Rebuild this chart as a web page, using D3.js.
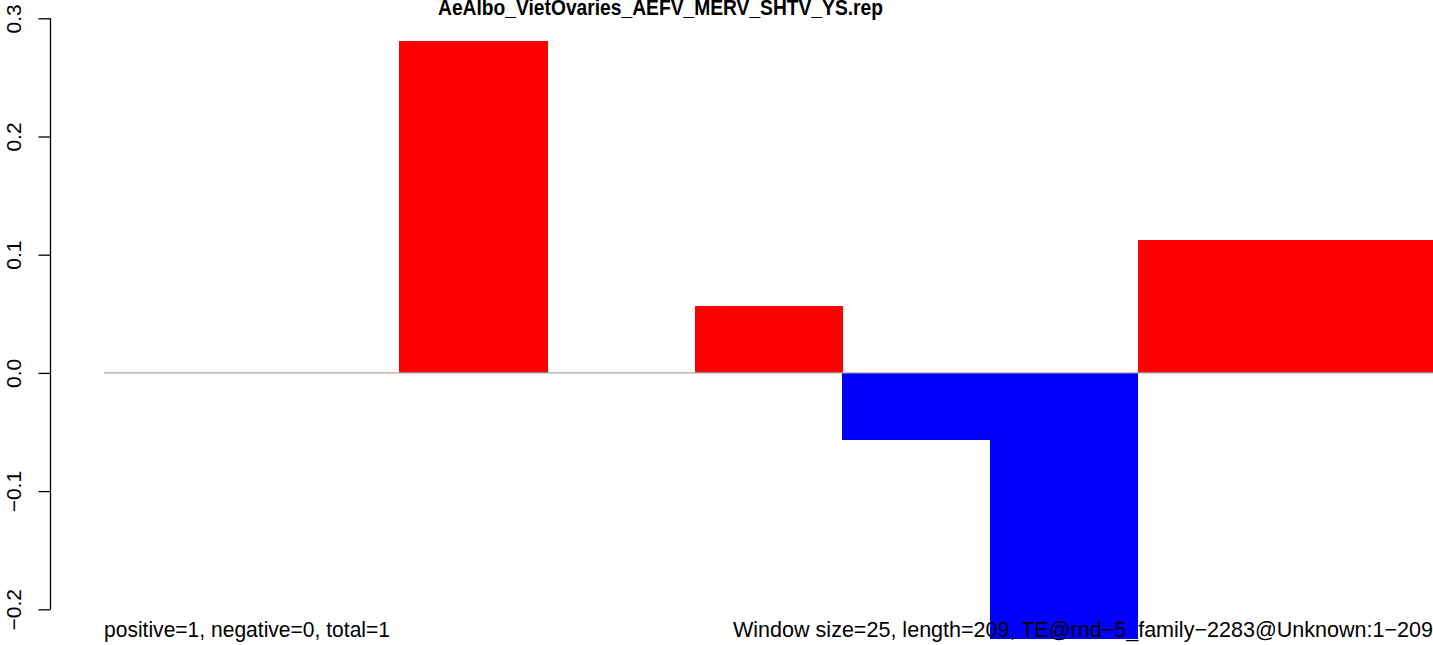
<!DOCTYPE html>
<html><head><meta charset="utf-8">
<script src="https://cdn.jsdelivr.net/npm/d3@7"></script>
<style>body{margin:0;background:#fff;}svg{display:block;font-family:"Liberation Sans",Arial,sans-serif;}</style>
</head><body><svg id="c" width="1433" height="645"></svg>
<script>
const title = "AeAlbo_VietOvaries_AEFV_MERV_SHTV_YS.rep";
const windows = [1,2,3,4,5,6,7,8,9];
const values = [0, 0, 0.2808, 0, 0.0569, -0.0565, -0.2251, 0.1124, 0.1124];
const yTicks = [-0.2, -0.1, 0.0, 0.1, 0.2, 0.3];
const leftNote = "positive=1, negative=0, total=1";
const rightNote = "Window size=25, length=209, TE@rnd\u22125_family\u22122283@Unknown:1\u2212209";

const svg = d3.select("#c");
const x = d3.scaleBand().domain(windows).range([104, 1433]).padding(0);
const y = d3.scaleLinear().domain([-0.2, 0.3]).range([609.3, 18.3]);

svg.append("g").selectAll("rect").data(values).join("rect")
  .attr("x", (d,i) => x(windows[i]))
  .attr("width", x.bandwidth() + 0.5)
  .attr("y", d => y(Math.max(0, d)))
  .attr("height", d => Math.abs(y(d) - y(0)))
  .attr("shape-rendering", "crispEdges")
  .attr("fill", d => d >= 0 ? "#ff0000" : "#0000ff");

svg.append("line").attr("x1", 104).attr("x2", 1433)
  .attr("y1", y(0)).attr("y2", y(0))
  .attr("stroke", "#a8a8a8").attr("stroke-width", 1.3);

// y axis
const ax = svg.append("g").attr("transform", "translate(50.5,0)")
  .call(d3.axisLeft(y).tickValues(yTicks).tickSize(12).tickFormat(d => d3.format(".1f")(d).replace("-", "\u2212")));
ax.select(".domain").attr("stroke", "#000").attr("stroke-width", 1.3).attr("d", `M0,${y(-0.2)}V${y(0.3)}`);
ax.selectAll(".tick line").attr("stroke", "#000").attr("stroke-width", 1.3);
ax.selectAll(".tick text")
  .attr("x", null).attr("dy", null)
  .attr("transform", "translate(-29.5,0) rotate(-90)")
  .attr("text-anchor", "middle")
  .attr("font-size", 21).attr("font-family", "Liberation Sans, Arial, sans-serif").attr("fill", "#000");

svg.append("text").attr("x", 438).attr("y", 15)
  .attr("font-weight", "bold").attr("font-size", 22)
  .attr("textLength", 445).attr("lengthAdjust", "spacingAndGlyphs").text(title);

svg.append("text").attr("x", 104).attr("y", 637).attr("font-size", 21.5)
  .attr("textLength", 286).attr("lengthAdjust", "spacingAndGlyphs").text(leftNote);
svg.append("text").attr("x", 733).attr("y", 637).attr("font-size", 21.5)
  .attr("textLength", 700).attr("lengthAdjust", "spacingAndGlyphs").text(rightNote);
</script></body></html>
